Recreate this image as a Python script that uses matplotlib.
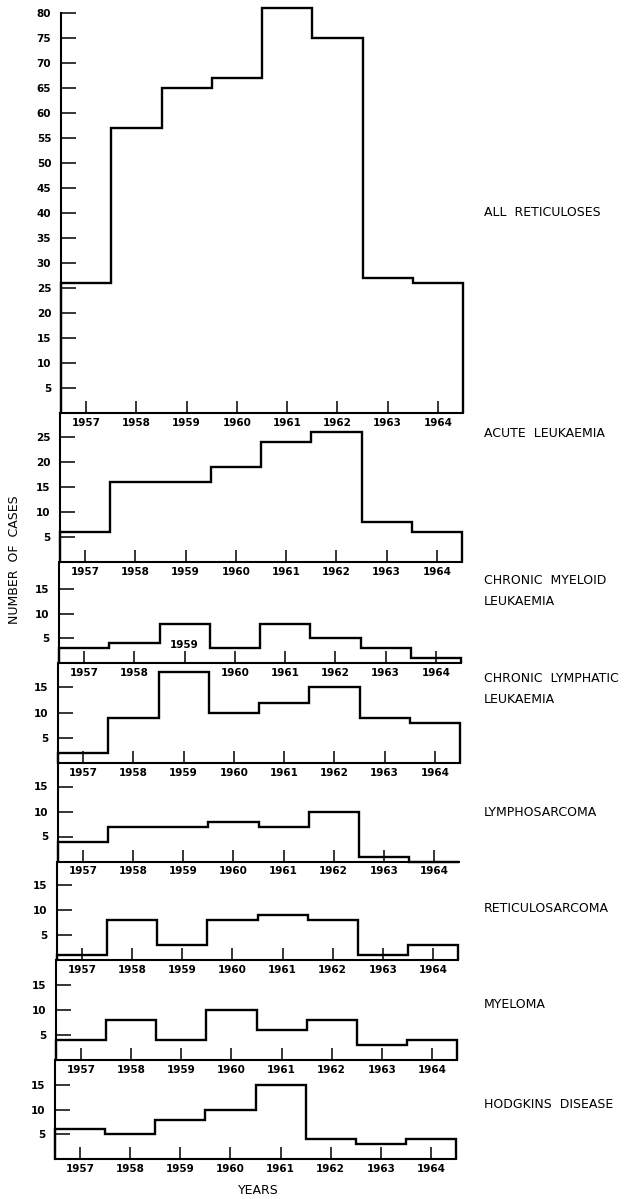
import numpy as np
import matplotlib
matplotlib.use("Agg")
import matplotlib.pyplot as plt

# ---------- data (cases per year) ----------
years = [1957, 1958, 1959, 1960, 1961, 1962, 1963, 1964]

all_reticuloses = [26, 57, 65, 67, 81, 75, 27, 26]
acute_leuk = [6, 16, 16, 19, 24, 26, 8, 6]
chronic_myeloid = [3, 4, 8, 3, 8, 5, 3, 1]
chronic_lymphatic = [2, 9, 18, 10, 12, 15, 9, 8]
lymphosarcoma = [4, 7, 7, 8, 7, 10, 1, 0]
reticulosarcoma = [1, 8, 3, 8, 9, 8, 1, 3]
myeloma = [4, 8, 4, 10, 6, 8, 3, 4]
hodgkins = [6, 5, 8, 10, 15, 4, 3, 4]

series = [all_reticuloses, acute_leuk, chronic_myeloid, chronic_lymphatic,
          lymphosarcoma, reticulosarcoma, myeloma, hodgkins]
names = ["ALL  RETICULOSES", "ACUTE  LEUKAEMIA", "CHRONIC  MYELOID\nLEUKAEMIA",
         "CHRONIC  LYMPHATIC\nLEUKAEMIA", "LYMPHOSARCOMA", "RETICULOSARCOMA",
         "MYELOMA", "HODGKINS  DISEASE"]
yticks = [list(range(5, 85, 5)), [5, 10, 15, 20, 25]] + [[5, 10, 15]] * 6

# ---------- layout (pixels) ----------
W, H = 644, 1199
bases = [413, 562, 663, 763, 861.5, 960, 1060, 1159]
tops = [3] + bases[:-1]
lefts = [61, 60, 59, 58, 58, 57, 56, 55]
rights = [463, 462, 461, 460, 459, 458, 457, 456]
scales = [5, 5, 4.93, 5.04, 5, 5, 5, 4.93]
title_y = [212, 434, 591, 689, 812, 908, 1005, 1105]

edges = np.arange(1956.5, 1965.0, 1.0)

fig = plt.figure(figsize=(W / 100, H / 100), dpi=100)

for i in range(8):
    b, t = bases[i], tops[i]
    ax = fig.add_axes([lefts[i] / W, 1 - b / H, (rights[i] - lefts[i]) / W, (b - t) / H])
    ax.patch.set_visible(False)
    ax.stairs(series[i], edges, baseline=0, color="black", lw=1.7, clip_on=False)
    ax.set_xlim(1956.5, 1964.5)
    ax.set_ylim(0, (b - t) / scales[i])

    for s in ["top", "right"]:
        ax.spines[s].set_visible(False)
    ax.spines["left"].set_linewidth(1.5)
    ax.spines["bottom"].set_linewidth(1.5)
    if i == 0:
        ax.spines["left"].set_bounds(0, 80)

    ax.set_xticks(years)
    labels = [str(y) for y in years]
    if i == 2:
        # the 1959 label sits above the axis in this panel
        labels[2] = ""
        ax.text(1959, 3.7, "1959", ha="center", va="center", fontsize=7.5,
                fontweight="bold")
    ax.set_xticklabels(labels, fontweight="bold")
    ax.set_yticks(yticks[i])
    ax.set_yticklabels([str(v) for v in yticks[i]], fontweight="bold")
    ax.tick_params(axis="x", direction="in", length=9, width=1.1, pad=3.5, labelsize=7.5)
    ax.tick_params(axis="y", direction="in", length=10.5, width=1.1, pad=7, labelsize=7.5)

    fig.text(484 / W, 1 - title_y[i] / H, names[i], fontsize=9, ha="left", va="center",
             linespacing=1.8)

fig.text(15 / W, 1 - 560 / H, "NUMBER  OF  CASES", rotation=90, fontsize=9,
         ha="center", va="center")
fig.text(258 / W, 1 - 1190 / H, "YEARS", fontsize=9, ha="center", va="center")

fig.savefig("out.png", dpi=100, facecolor="white")
